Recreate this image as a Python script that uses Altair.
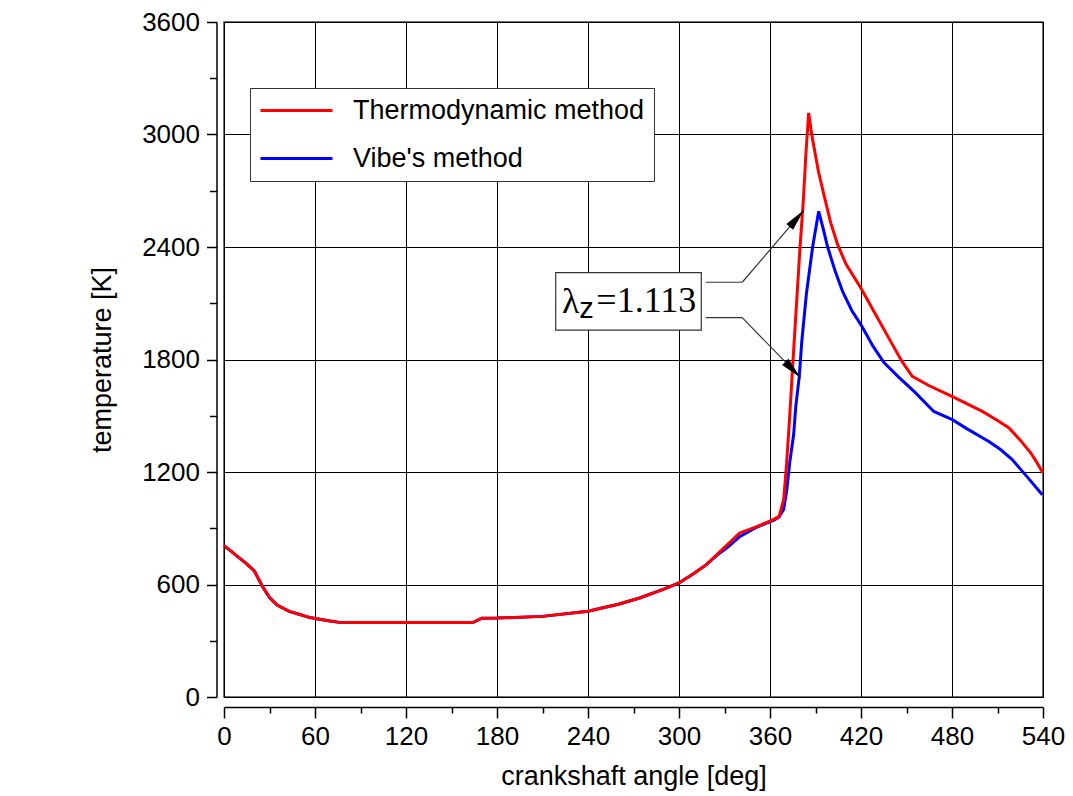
import altair as alt
import pandas as pd

# ---------------- data ----------------
series_names = ["Thermodynamic method", "Vibe's method"]
series_colors = ["#ff0000", "#0000ff"]

thermo_deg = [0, 5, 10, 15, 20, 25, 30, 35, 43, 50, 56, 60, 70, 76, 90, 120, 150, 164,
              170, 180, 210, 240, 260, 274, 290, 300, 310, 318, 325, 333, 340, 350, 357,
              363, 366, 369, 371, 373, 375.6, 379.8, 382, 383.7, 385.5, 387.5, 392,
              395.8, 400, 404.5, 410, 420, 430, 440, 447, 453.8, 465, 480, 500, 510,
              517.6, 525, 532, 536, 540]
thermo_temp = [807, 775, 742, 710, 672, 595, 530, 490, 457, 440, 425, 419, 405, 398, 397,
               397, 397, 397, 420, 421, 430, 457, 495, 528, 575, 608, 660, 706, 760, 821,
               875, 905, 928, 950, 963, 1052, 1250, 1500, 1850, 2400, 2650, 2900, 3115,
               3000, 2800, 2670, 2530, 2415, 2310, 2180, 2035, 1890, 1790, 1710, 1660,
               1603, 1523, 1475, 1435, 1370, 1301, 1250, 1195]

vibe_deg = [0, 5, 10, 15, 20, 25, 30, 35, 43, 50, 56, 60, 70, 76, 90, 120, 150, 164,
            170, 180, 210, 240, 260, 274, 290, 300, 310, 318, 325, 333, 340, 350, 357,
            363, 366, 369, 371, 373, 375.6, 377, 379.3, 381, 384, 388.1, 392.1, 395,
            398, 403, 408, 414, 420, 428, 435, 445, 455, 468, 480.2, 490, 504.3, 512,
            519.7, 530, 539.5]
vibe_temp = [807, 775, 742, 710, 672, 595, 530, 490, 457, 440, 425, 419, 405, 398, 397,
             397, 397, 397, 420, 421, 430, 457, 495, 528, 575, 608, 660, 706, 755, 805,
             855, 900, 925, 945, 960, 1000, 1100, 1250, 1400, 1550, 1710, 1900, 2150,
             2400, 2590, 2500, 2400, 2270, 2160, 2060, 1985, 1870, 1785, 1705, 1630,
             1523, 1479, 1430, 1363, 1320, 1266, 1170, 1079]

x_tick_values = list(range(0, 541, 30))
y_tick_values = list(range(0, 3601, 300))

# annotation (data coordinates)
box_x = [218.7, 314.7]
box_y = [1957, 2263]
lambda_text = ["λ", "z", "=1.113"]
lambda_x = [222.9, 234.2, 245.5]
lambda_y = [2048, 2021, 2052]
arrow_seg_x = [317.6, 341.7, 317.6, 341.7]
arrow_seg_y = [2212, 2212, 2023, 2023]
arrow_seg_x2 = [341.7, 382.4, 341.7, 380.2]
arrow_seg_y2 = [2212, 2597, 2023, 1703]
arrow_tip_x = [382.4, 380.2]
arrow_tip_y = [2597, 1703]
arrow_tip_angle = [40.5, 135.8]

FONT = "Liberation Sans"

df_thermo = pd.DataFrame({"deg": thermo_deg, "temp": thermo_temp, "series": series_names[0]})
df_vibe = pd.DataFrame({"deg": vibe_deg, "temp": vibe_temp, "series": series_names[1]})

x_scale = alt.Scale(domain=[0, 540], nice=False, zero=False)
y_scale = alt.Scale(domain=[0, 3600], nice=False, zero=False)

x_axis = alt.Axis(
    values=x_tick_values,
    format="d",
    labelExpr="datum.value % 60 === 0 ? datum.label : ''",
    tickSize={"condition": {"test": "datum.value % 60 === 0", "value": 11}, "value": 6},
    gridOpacity={"condition": {"test": "datum.value % 60 === 0", "value": 1}, "value": 0},
    grid=True, gridColor="#000000", gridWidth=1,
    offset=10, domainColor="#000000", domainWidth=1.5,
    tickColor="#000000", tickWidth=1.5, labelFlush=False, labelOverlap=False,
    labelFont=FONT, labelFontSize=26, labelColor="#000000", labelPadding=5,
    title="crankshaft angle [deg]", titleFont=FONT, titleFontSize=27,
    titleFontWeight="normal", titleColor="#000000", titlePadding=14,
)
y_axis = alt.Axis(
    values=y_tick_values,
    format="d",
    labelExpr="datum.value % 600 === 0 ? datum.label : ''",
    tickSize={"condition": {"test": "datum.value % 600 === 0", "value": 10}, "value": 7},
    gridOpacity={"condition": {"test": "datum.value % 600 === 0", "value": 1}, "value": 0},
    grid=True, gridColor="#000000", gridWidth=1,
    offset=7.5, domainColor="#000000", domainWidth=1.5,
    tickColor="#000000", tickWidth=1.5, labelFlush=False, labelOverlap=False,
    labelFont=FONT, labelFontSize=26, labelColor="#000000", labelPadding=7,
    title="temperature [K]", titleFont=FONT, titleFontSize=27,
    titleFontWeight="normal", titleColor="#000000", titlePadding=25,
)

color = alt.Color(
    "series:N",
    scale=alt.Scale(domain=series_names, range=series_colors),
    legend=alt.Legend(
        title=None, orient="none", legendX=26, legendY=66,
        symbolType="M-3,0H3", symbolSize=576, symbolStrokeWidth=3,
        symbolOffset=24,
        labelFont=FONT, labelFontSize=27, labelColor="#000000", labelOffset=43,
        strokeColor="#333333", fillColor="#ffffff", padding=9, rowPadding=20,
        labelLimit=500,
    ),
)

base_x = alt.X("deg:Q", scale=x_scale, axis=x_axis)
base_y = alt.Y("temp:Q", scale=y_scale, axis=y_axis)

vibe_line = alt.Chart(df_vibe).mark_line(strokeWidth=3).encode(
    x=base_x, y=base_y, color=color, order="deg:Q")
thermo_line = alt.Chart(df_thermo).mark_line(strokeWidth=3).encode(
    x=alt.X("deg:Q"), y=alt.Y("temp:Q"), color=color, order="deg:Q")

df_box = pd.DataFrame({"x": [box_x[0]], "x2": [box_x[1]], "y": [box_y[0]], "y2": [box_y[1]]})
box = alt.Chart(df_box).mark_rect(fill="#ffffff", stroke="#333333", strokeWidth=1.2).encode(
    x="x:Q", x2="x2", y="y:Q", y2="y2")

df_seg = pd.DataFrame({"x": arrow_seg_x, "y": arrow_seg_y, "x2": arrow_seg_x2, "y2": arrow_seg_y2})
segs = alt.Chart(df_seg).mark_rule(color="#333333", strokeWidth=1.2).encode(
    x="x:Q", y="y:Q", x2="x2", y2="y2")

df_tip = pd.DataFrame({"x": arrow_tip_x, "y": arrow_tip_y, "ang": arrow_tip_angle})
tips = alt.Chart(df_tip).mark_point(
    shape="M0,0L0.4,2L-0.4,2Z", size=484, filled=True, color="#000000", opacity=1
).encode(x="x:Q", y="y:Q", angle=alt.Angle("ang:Q", scale=None))

df_lam = pd.DataFrame({"t": lambda_text, "x": lambda_x, "y": lambda_y,
                       "font": ["Liberation Serif", FONT, "Liberation Serif"],
                       "size": [36, 29, 36]})
lam_parts = []
for i in range(3):
    lam_parts.append(
        alt.Chart(df_lam.iloc[[i]]).mark_text(
            align="left", baseline="alphabetic", font=df_lam["font"][i],
            fontSize=int(df_lam["size"][i]), color="#000000"
        ).encode(x="x:Q", y="y:Q", text="t:N")
    )

chart = alt.layer(vibe_line, thermo_line, box, segs, tips, *lam_parts).properties(
    width=819, height=675,
    autosize=alt.AutoSizeParams(type="none"),
    padding={"left": 216, "top": 14, "right": 22, "bottom": 97},
    background="#ffffff",
).configure_view(stroke="#444444", strokeWidth=1.5)

chart.save("out.html", embed_options={"renderer": "svg", "actions": False})
